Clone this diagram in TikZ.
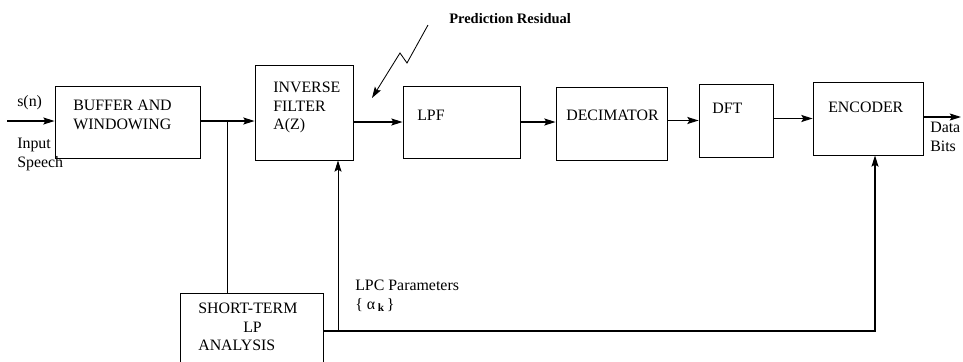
\documentclass[tikz,border=0pt]{standalone}
\usepackage{fontspec}
\setmainfont{Liberation Serif}
\usetikzlibrary{arrows.meta, positioning}

\begin{document}
\begin{tikzpicture}[x=0.025cm, y=-0.025cm,
				every node/.style={font=\fontsize{11.3pt}{13.2pt}\selectfont},
				box/.style={draw, line width=0.6pt, inner sep=0pt},
				txt/.style={anchor=north west, inner sep=0pt, align=left},
				arrow/.style={-{Stealth[length=8pt, width=5pt, inset=1.5pt]}, line width=0.8pt},
				wire/.style={line width=0.5pt}]
				
				\useasboundingbox (0,0) rectangle (963,362);
				
				% blocks
				\node[box, minimum width=3.625cm, minimum height=1.8cm] (buf) at (127.5,122) {};
				\node[box, minimum width=2.45cm, minimum height=2.375cm] (inv) at (304,112.5) {};
				\node[box, minimum width=2.925cm, minimum height=1.8cm] (lpf) at (461.5,122) {};
				\node[box, minimum width=2.775cm, minimum height=1.825cm] (dec) at (611.5,123.5) {};
				\node[box, minimum width=1.85cm, minimum height=1.825cm] (dft) at (736,120.5) {};
				\node[box, minimum width=2.75cm, minimum height=1.825cm] (enc) at (868,118.5) {};
				\node[box, minimum width=3.575cm, minimum height=2.25cm] (stlp) at (251.5,338) {};
				
				\node[txt] (buftxt) at (73,100) {BUFFER AND\\WINDOWING};
				\node[txt] (invtxt) at (273,82) {INVERSE\\FILTER\\A(Z)};
				\node[txt] (lpftxt) at (417,110) {LPF};
				\node[txt] (dectxt) at (566,110) {DECIMATOR};
				\node[txt] (dfttxt) at (712,103) {DFT};
				\node[txt] (enctxt) at (828,102) {ENCODER};
				\node[txt] (sttxt) at (198,303) {SHORT-TERM\\\hspace*{32pt}LP\\ANALYSIS};
				
				% labels
				\node[txt] (sn) at (17,95) {s(n)};
				\node[txt] (insp) at (17,138) {Input\\Speech};
				\node[txt] (bits) at (930,122) {Data\\Bits};
				\node[txt] (lpc) at (355,280) {LPC Parameters\\\{ α\,\raisebox{-0.35ex}{\footnotesize\bfseries k}\,\}};
				\node[txt, font=\fontsize{10.3pt}{12pt}\selectfont\bfseries] (pred) at (449,13) {Prediction Residual};
				
				\coordinate (in) at (7,121);
				\coordinate (out) at (961,117);
				\coordinate (split) at (227,121);
				\coordinate (bus) at (338,331);
				\coordinate (encin) at (875,331);
				\coordinate (zig) at (428,25);
				\coordinate (res) at (372,98);
				
				\draw[arrow] (in) -- (in -| buf.west);
				\draw[arrow] (buf.east |- split) -- (split -| inv.west);
				\draw[wire] (split) -- (split |- stlp.north);
				\draw[arrow] (inv.east |- lpf.west) -- (lpf.west);
				\draw[arrow] (lpf.east) -- (lpf.east -| dec.west);
				\draw[arrow] (dec.east |- dft.west) -- (dft.west);
				\draw[arrow] (dft.east |- enc.west) -- (enc.west);
				\draw[arrow] (enc.east |- out) -- (out);
				
				\draw[arrow] (stlp.east |- bus) -| (encin |- enc.south);
				\draw[arrow, line width=0.6pt] (bus) -- (bus |- inv.south);
				
				\draw[arrow, line width=0.6pt] (zig) -- (407,63) -- (400,53) -- (res);
			\end{tikzpicture}
\end{document}
